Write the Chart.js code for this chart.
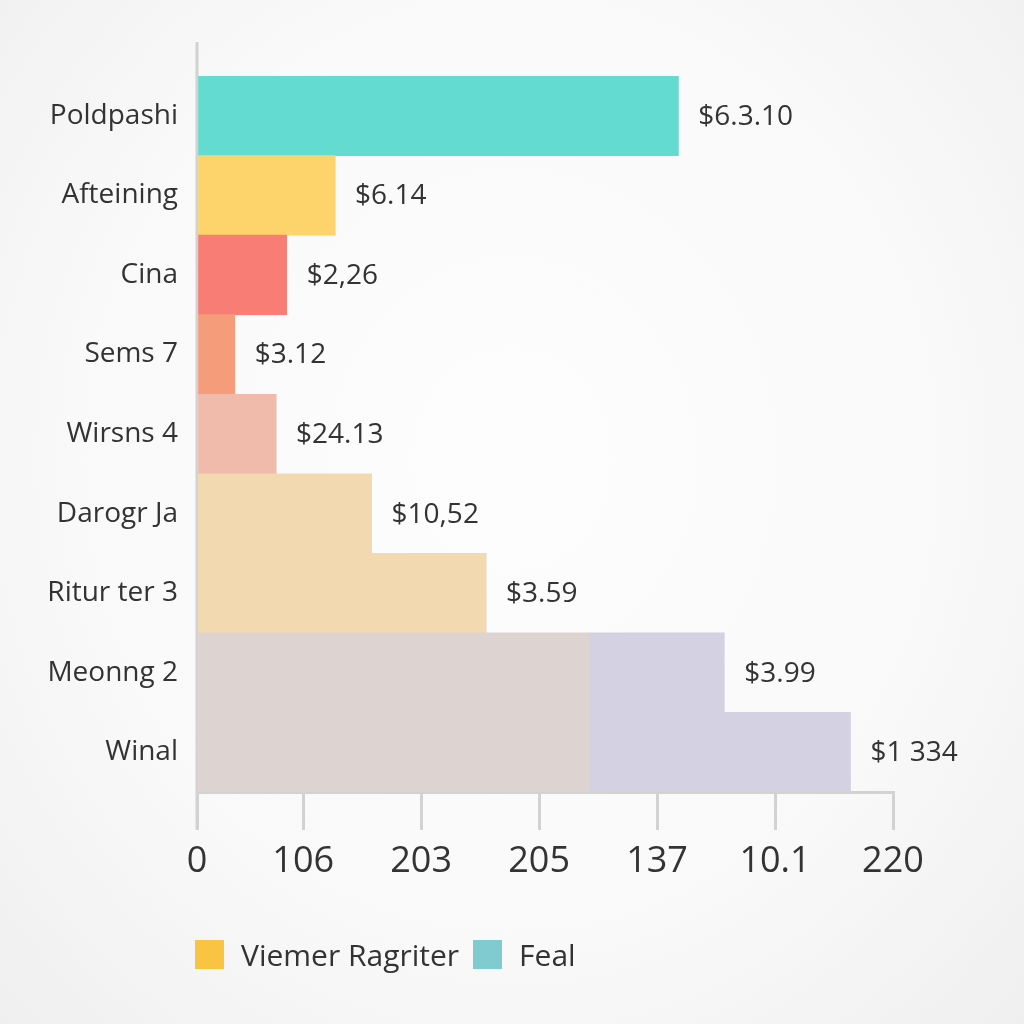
<!DOCTYPE html>
<html>
<head>
<meta charset="utf-8">
<title>Bar chart</title>
<script src="https://cdn.jsdelivr.net/npm/chart.js@4.4.1/dist/chart.umd.min.js"></script>
<style>
    html, body {
        margin: 0;
        padding: 0;
        width: 1024px;
        height: 1024px;
        overflow: hidden;
        background: radial-gradient(ellipse at 50% 45%, #fdfdfd 0%, #f9f9f9 60%, #efefef 100%);
        font-family: 'Open Sans', 'DejaVu Sans', sans-serif;
    }
    #wrap {
        position: relative;
        width: 1024px;
        height: 1024px;
    }
    #legend {
        position: absolute;
        left: 195px;
        top: 934px;
        display: flex;
        align-items: center;
        font-size: 30px;
        color: #333;
    }
    .swatch {
        display: inline-block;
        width: 29px;
        height: 29px;
        margin-right: 17px;
    }
    .legend-item {
        display: flex;
        align-items: center;
        margin-right: 14px;
    }
</style>
</head>
<body>
<div id="wrap">
    <canvas id="chart" width="1024" height="1024"></canvas>
    <div id="legend"></div>
</div>
<script>
const categories = ['Poldpashi', 'Afteining', 'Cina', 'Sems 7', 'Wirsns 4', 'Darogr Ja', 'Ritur ter 3', 'Meonng 2', 'Winal'];
const mainValues = [4.08, 1.17, 0.76, 0.32, 0.67, 1.48, 2.45, 3.32, 3.32];
const extraValues = [0, 0, 0, 0, 0, 0, 0, 1.15, 2.22];
const valueLabels = ['$6.3.10', '$6.14', '$2,26', '$3.12', '$24.13', '$10,52', '$3.59', '$3.99', '$1 334'];
const tickValues = [0, 0.9, 1.9, 2.9, 3.9, 4.9, 5.9];
const tickLabels = ['0', '106', '203', '205', '137', '10.1', '220'];
const seriesNames = ['Viemer Ragriter', 'Feal'];

const barColors = ['#63dbd0', '#fcd46b', '#f87d74', '#f59c7a', '#f0bbaa', '#f2d9b0', '#f2d9b0', '#ddd3d1', '#ddd3d1'];
const extraColor = '#d4d1e2';
const legendColors = ['#f9c441', '#7fcbd0'];
const axisColor = '#d2d2d2';
const textColor = '#333333';
const fontFamily = "'Open Sans', 'DejaVu Sans', sans-serif";

// left axis line runs a bit above the first bar and down past the x axis
const leftAxisLine = {
    id: 'leftAxisLine',
    beforeDatasetsDraw(chart) {
        const { ctx, chartArea } = chart;
        ctx.save();
        ctx.strokeStyle = axisColor;
        ctx.lineWidth = 3;
        ctx.beginPath();
        ctx.moveTo(chartArea.left, chartArea.top - 34);
        ctx.lineTo(chartArea.left, chartArea.bottom + 38);
        ctx.stroke();
        ctx.restore();
    }
};

// value text right of each bar's end
const endLabels = {
    id: 'endLabels',
    afterDatasetsDraw(chart) {
        const { ctx } = chart;
        ctx.save();
        ctx.font = '28px ' + fontFamily;
        ctx.fillStyle = textColor;
        ctx.textAlign = 'left';
        ctx.textBaseline = 'middle';
        categories.forEach((cat, i) => {
            let dsIndex = extraValues[i] > 0 ? 1 : 0;
            const bar = chart.getDatasetMeta(dsIndex).data[i];
            ctx.fillText(valueLabels[i], bar.x + 20, bar.y + 1);
        });
        ctx.restore();
    }
};

document.addEventListener('DOMContentLoaded', function() {
    const legend = document.getElementById('legend');
    seriesNames.forEach((name, i) => {
        const item = document.createElement('span');
        item.className = 'legend-item';
        const sw = document.createElement('span');
        sw.className = 'swatch';
        sw.style.background = legendColors[i];
        item.appendChild(sw);
        item.appendChild(document.createTextNode(name));
        legend.appendChild(item);
    });

    const ctx = document.getElementById('chart').getContext('2d');
    new Chart(ctx, {
        type: 'bar',
        data: {
            labels: categories,
            datasets: [{
                label: seriesNames[0],
                data: mainValues,
                backgroundColor: barColors,
                categoryPercentage: 1,
                barPercentage: 1
            }, {
                label: seriesNames[1],
                data: extraValues,
                backgroundColor: extraColor,
                categoryPercentage: 1,
                barPercentage: 1
            }]
        },
        options: {
            indexAxis: 'y',
            responsive: false,
            animation: false,
            layout: {
                padding: { top: 76, right: 131, left: 0, bottom: 0 }
            },
            scales: {
                x: {
                    stacked: true,
                    min: 0,
                    max: 5.9,
                    afterBuildTicks: function(scale) {
                        scale.ticks = tickValues.map(v => ({ value: v }));
                    },
                    afterFit: function(scale) {
                        scale.height = 232;
                    },
                    grid: {
                        drawOnChartArea: false,
                        drawTicks: true,
                        tickLength: 38,
                        color: axisColor,
                        lineWidth: 3
                    },
                    border: {
                        display: true,
                        color: axisColor,
                        width: 3
                    },
                    ticks: {
                        autoSkip: false,
                        maxRotation: 0,
                        padding: 10,
                        color: textColor,
                        font: { family: fontFamily, size: 36 },
                        callback: function(value, index) {
                            return tickLabels[index];
                        }
                    }
                },
                y: {
                    stacked: true,
                    afterFit: function(scale) {
                        scale.width = 197;
                    },
                    grid: { display: false },
                    border: { display: false },
                    ticks: {
                        padding: 11,
                        color: textColor,
                        font: { family: fontFamily, size: 28 }
                    }
                }
            },
            plugins: {
                legend: { display: false },
                tooltip: { enabled: false }
            }
        },
        plugins: [leftAxisLine, endLabels]
    });
});
</script>
</body>
</html>
